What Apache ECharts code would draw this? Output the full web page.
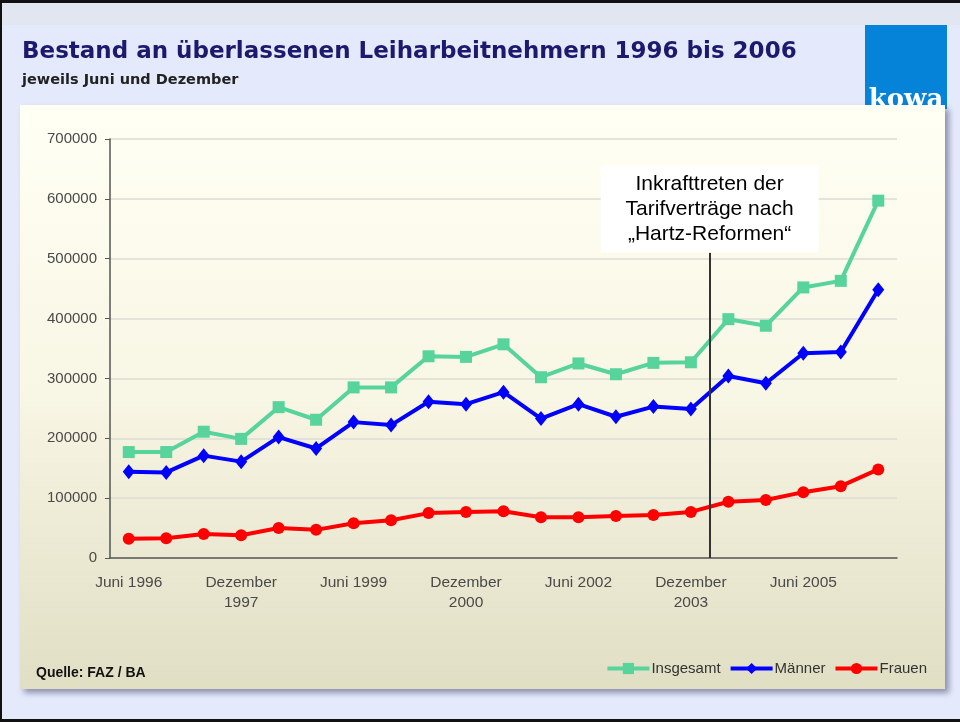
<!DOCTYPE html>
<html>
<head>
<meta charset="utf-8">
<script src="https://cdn.jsdelivr.net/npm/echarts@6/dist/echarts.min.js"></script>
<style>
  html, body { margin: 0; padding: 0; }
  #chart { width: 960px; height: 722px; }
</style>
</head>
<body>
<div id="chart"></div>
<script>
// Half-yearly counts (June / December)
const categories = [
  'Juni 1996', 'Dezember 1996', 'Juni 1997', 'Dezember 1997', 'Juni 1998', 'Dezember 1998',
  'Juni 1999', 'Dezember 1999', 'Juni 2000', 'Dezember 2000', 'Juni 2001', 'Dezember 2001',
  'Juni 2002', 'Dezember 2002', 'Juni 2003', 'Dezember 2003', 'Juni 2004', 'Dezember 2004',
  'Juni 2005', 'Dezember 2005', 'Juni 2006'
];
const insgesamt = [177000, 177000, 211000, 199000, 252000, 231000, 285000, 285000, 337000, 336000,
  357000, 302000, 325000, 307000, 326000, 327000, 399000, 388000, 452000, 463000, 597000];
const maenner = [144000, 143000, 171000, 161000, 202000, 183000, 227000, 222000, 261000, 257000,
  277000, 233000, 257000, 236000, 253000, 249000, 304000, 292000, 342000, 344000, 448000];
const frauen = [32000, 33000, 40000, 38000, 50000, 47000, 58000, 63000, 75000, 77000,
  78000, 68000, 68000, 70000, 72000, 77000, 94000, 97000, 110000, 120000, 148000];

// annotation: boundary after "Dezember 2003" (category slot 16)
const hartzSlot = 16;
const hartzLineTop = 510000;
const hartzBoxCenter = 583000;
const hartzText = 'Inkrafttreten der\nTarifverträge nach\n„Hartz-Reformen“';

const chart = echarts.init(document.getElementById('chart'));

const option = {
  animation: false,
  backgroundColor: '#e4eafc',
  title: {
    text: 'Bestand an überlassenen Leiharbeitnehmern 1996 bis 2006',
    subtext: 'jeweils Juni und Dezember',
    left: 17,
    top: 36,
    itemGap: 9,
    textStyle: { fontFamily: 'DejaVu Sans', fontWeight: 'bold', fontSize: 23, color: '#1b1a6f' },
    subtextStyle: { fontFamily: 'DejaVu Sans', fontWeight: 'bold', fontSize: 14.5, color: '#222' }
  },
  graphic: [
    { type: 'rect', z: -20, shape: { x: 0, y: 0, width: 960, height: 25 }, style: { fill: '#e1e6f1' } },
    { type: 'rect', z: -19, shape: { x: 865, y: 25, width: 82, height: 84 }, style: { fill: '#0483d9' } },
    { type: 'text', z: -18, x: 906, y: 113,
      style: { text: 'kowa', fill: '#fff', font: 'bold 26px "DejaVu Serif"', textAlign: 'center', textVerticalAlign: 'bottom' } },
    { type: 'rect', z: -10, shape: { x: 20, y: 105, width: 925, height: 584 },
      style: {
        fill: new echarts.graphic.LinearGradient(0, 0, 0, 1, [
          { offset: 0, color: '#fffff4' },
          { offset: 0.5, color: '#f8f6e4' },
          { offset: 1, color: '#e0dec3' }
        ]),
        shadowBlur: 6, shadowOffsetX: 4, shadowOffsetY: 4, shadowColor: 'rgba(70,70,110,0.55)'
      } },
    { type: 'text', z: 5, x: 36, y: 673,
      style: { text: 'Quelle: FAZ / BA', fill: '#111', font: 'bold 14px "Liberation Sans Narrow", "Liberation Sans", Arial', textVerticalAlign: 'middle' } },
    { type: 'rect', z: 100, shape: { x: 0, y: 0, width: 960, height: 3 }, style: { fill: '#111' } },
    { type: 'rect', z: 100, shape: { x: 0, y: 0, width: 2, height: 722 }, style: { fill: '#111' } },
    { type: 'rect', z: 100, shape: { x: 0, y: 719, width: 960, height: 3 }, style: { fill: '#111' } }
  ],
  legend: {
    data: ['Insgesamt', 'Männer', 'Frauen'],
    right: 28,
    top: 656,
    itemWidth: 42,
    itemHeight: 14,
    itemGap: 8,
    lineStyle: { width: 4 },
    textStyle: { fontFamily: 'Liberation Sans', fontSize: 15, color: '#333', padding: [0, 0, 0, -3] }
  },
  grid: { left: 110, right: 63, top: 139, bottom: 164, containLabel: false },
  xAxis: [
    {
      type: 'category',
      data: categories,
      boundaryGap: true,
      axisLine: { lineStyle: { color: '#555', width: 1.5 } },
      axisTick: { interval: 0, length: 5, lineStyle: { color: '#555' } },
      axisLabel: {
        interval: 2,
        margin: 15,
        fontFamily: 'Liberation Sans',
        fontSize: 15.5,
        lineHeight: 20,
        color: '#4a4a4a',
        formatter: (v) => v.replace('Dezember ', 'Dezember\n')
      }
    },
    { type: 'value', min: 0, max: categories.length, show: false, gridIndex: 0 }
  ],
  yAxis: {
    type: 'value',
    min: 0,
    max: 700000,
    interval: 100000,
    axisLine: { show: true, lineStyle: { color: '#555', width: 1.5 } },
    axisTick: { show: true, length: 5, lineStyle: { color: '#555' } },
    axisLabel: { margin: 13, fontFamily: 'Liberation Sans', fontSize: 15, color: '#4a4a4a', formatter: (v) => String(v) },
    splitLine: { lineStyle: { color: '#dcdcd6', width: 1.5 } }
  },
  series: [
    {
      name: 'Insgesamt', type: 'line', data: insgesamt,
      symbol: 'rect', symbolSize: 12,
      lineStyle: { color: '#57d39c', width: 4 },
      itemStyle: { color: '#57d39c' }
    },
    {
      name: 'Männer', type: 'line', data: maenner,
      symbol: 'diamond', symbolSize: [12, 15],
      lineStyle: { color: '#0000ff', width: 4 },
      itemStyle: { color: '#0000ff' }
    },
    {
      name: 'Frauen', type: 'line', data: frauen,
      symbol: 'circle', symbolSize: 12,
      lineStyle: { color: '#ff0000', width: 4 },
      itemStyle: { color: '#ff0000' }
    },
    {
      name: 'hartz', type: 'line', xAxisIndex: 1, data: [],
      markLine: {
        silent: true, symbol: 'none',
        lineStyle: { color: '#333', width: 2, type: 'solid' },
        label: { show: false },
        data: [[{ coord: [hartzSlot, 0] }, { coord: [hartzSlot, hartzLineTop] }]]
      },
      markPoint: {
        silent: true,
        data: [{
          coord: [hartzSlot, hartzBoxCenter],
          symbol: 'rect',
          symbolSize: [218, 87],
          itemStyle: { color: '#ffffff' },
          label: {
            show: true, position: 'inside', formatter: hartzText,
            fontFamily: 'Liberation Sans', fontSize: 21, lineHeight: 25, color: '#000'
          }
        }]
      }
    }
  ]
};

chart.setOption(option);
</script>
</body>
</html>
